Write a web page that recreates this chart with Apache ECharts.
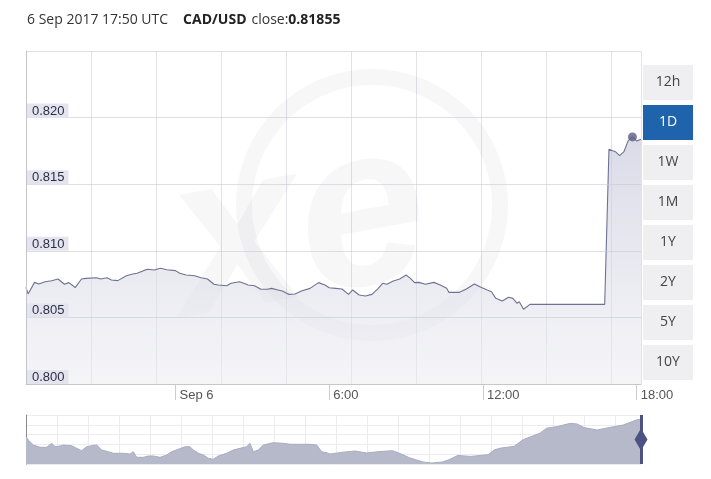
<!DOCTYPE html>
<html><head><meta charset="utf-8">
<script src="https://cdn.jsdelivr.net/npm/echarts@6/dist/echarts.min.js"></script>
<style>html,body{margin:0;padding:0;background:#fff;}#c{width:711px;height:479px;}</style>
</head><body><div id="c"></div>
<script>
// ---------------- data ----------------
const headerDate = '6 Sep 2017 17:50 UTC';
const pairName = 'CAD/USD';
const closeTime = '09-06 17:50';
const viewStart = '09-05 18:10';
const viewEnd = '09-06 18:10';

const times = [
  '09-05 18:10','09-05 18:15','09-05 18:30','09-05 18:40','09-05 18:55','09-05 19:10','09-05 19:25','09-05 19:40',
  '09-05 19:50','09-05 20:00','09-05 20:05','09-05 20:20','09-05 20:30','09-05 20:55','09-05 21:05','09-05 21:20',
  '09-05 21:30','09-05 21:45','09-05 22:05','09-05 22:20','09-05 22:30','09-05 22:45','09-05 22:55','09-05 23:10',
  '09-05 23:25','09-05 23:40',
  '09-06 00:00','09-06 00:10','09-06 00:25','09-06 00:45','09-06 01:00','09-06 01:15','09-06 01:30','09-06 01:40',
  '09-06 02:00','09-06 02:10','09-06 02:30','09-06 02:40','09-06 02:50','09-06 03:05','09-06 03:20','09-06 03:35',
  '09-06 03:45','09-06 04:00','09-06 04:10','09-06 04:25','09-06 04:40','09-06 04:55','09-06 05:15','09-06 05:35',
  '09-06 05:50','09-06 06:00','09-06 06:15','09-06 06:30','09-06 06:45','09-06 06:55','09-06 07:10','09-06 07:25',
  '09-06 07:40','09-06 07:55','09-06 08:05','09-06 08:15','09-06 08:30','09-06 08:45','09-06 09:00','09-06 09:10',
  '09-06 09:20','09-06 09:30','09-06 09:45','09-06 10:05','09-06 10:20','09-06 10:35','09-06 10:40','09-06 11:05',
  '09-06 11:20','09-06 11:40','09-06 11:55','09-06 12:10','09-06 12:20','09-06 12:30','09-06 12:45','09-06 13:00',
  '09-06 13:10','09-06 13:20','09-06 13:25','09-06 13:35','09-06 13:50','09-06 16:45','09-06 16:55','09-06 17:10',
  '09-06 17:20','09-06 17:30','09-06 17:40','09-06 17:50','09-06 18:00','09-06 18:10'
];
const rates = [
  0.80726,0.80676,0.80763,0.80751,0.80768,0.80775,0.80788,0.80749,
  0.80761,0.80738,0.80723,0.80788,0.80793,0.80798,0.80788,0.80798,
  0.80781,0.80776,0.80813,0.80826,0.80831,0.80851,0.80861,0.80856,
  0.80869,0.80858,
  0.80851,0.80831,0.80818,0.80813,0.80798,0.80788,0.80749,0.80743,
  0.80738,0.80756,0.80768,0.80756,0.80743,0.80738,0.80711,0.80711,
  0.80718,0.80706,0.80698,0.80673,0.80676,0.80698,0.80718,0.80761,
  0.80743,0.80723,0.80718,0.80713,0.80673,0.80706,0.80668,0.80661,
  0.80673,0.80718,0.80756,0.80749,0.80773,0.80788,0.80818,0.80793,
  0.80761,0.80763,0.80749,0.80763,0.80743,0.80718,0.80688,0.80688,
  0.80711,0.80751,0.80726,0.80706,0.80693,0.80643,0.80623,0.80651,
  0.80643,0.80606,0.80618,0.80561,0.80598,0.80598,0.81762,0.81744,
  0.81714,0.81744,0.81827,0.81855,0.81824,0.81837
];

const xTickHours = [0, 6, 12, 18];
const xTickLabels = ['Sep 6', '6:00', '12:00', '18:00'];

const rangeButtons = ['12h', '1D', '1W', '1M', '1Y', '2Y', '5Y', '10Y'];
const activeRange = '1D';

// navigator (longer period), position in % of navigator span
const navPositions = [
  0,0.37,1.19,2.28,3.37,4.18,4.72,5.53,6.07,7.43,8.24,9.06,9.87,10.68,11.5,12.31,13.38,14.2,15.82,16.91,
  17.45,18.0,19.07,19.89,20.7,21.79,22.88,23.69,24.76,25.85,26.67,27.2,28.02,28.83,29.64,30.46,31.27,32.63,33.71,34.8,
  35.89,36.42,36.96,37.77,38.59,40.21,41.84,42.93,44.55,46.18,47.27,48.08,49.02,49.43,51.85,53.5,55.38,57.56,59.61,61.02,
  62.44,64.55,65.95,67.72,68.78,70.2,72.31,75.12,76.18,77.24,79.35,80.78,82.18,83.58,84.65,86.41,88.52,89.6,90.76,92.88,
  94.29,95.71,97.12,98.54,99.24,100
];
const navRates = [
  0.7806,0.7752,0.7670,0.7633,0.7633,0.7698,0.7642,0.7654,0.7670,0.7659,0.7616,0.7577,0.7642,0.7659,0.7670,0.7589,0.7561,0.7535,0.7535,0.7523,
  0.7561,0.7469,0.7469,0.7491,0.7491,0.7469,0.7507,0.7561,0.7600,0.7642,0.7642,0.7589,0.7535,0.7507,0.7453,0.7437,0.7491,0.7535,0.7589,0.7616,
  0.7642,0.7698,0.7561,0.7589,0.7670,0.7708,0.7698,0.7682,0.7682,0.7682,0.7670,0.7561,0.7540,0.7523,0.7556,0.7572,0.7540,0.7564,0.7577,0.7523,
  0.7458,0.7393,0.7376,0.7393,0.7430,0.7500,0.7484,0.7512,0.7592,0.7621,0.7647,0.7755,0.7809,0.7863,0.7945,0.7971,0.8025,0.8013,0.7954,0.7915,
  0.7945,0.7971,0.7997,0.8052,0.8078,0.8095
];

// ---------------- helpers ----------------
function toHours(s) {
  const [md, hm] = s.split(' ');
  const day = +md.split('-')[1];
  const [h, m] = hm.split(':').map(Number);
  return (day - 6) * 24 + h + m / 60;
}
const mainData = times.map((t, i) => [toHours(t), rates[i]]);
const closeIdx = times.indexOf(closeTime);
const closeValue = rates[closeIdx];
const navData = navPositions.map((p, i) => [p, navRates[i]]);

// ---------------- layout ----------------
const G = { left: 26, top: 51, width: 615, height: 333 };
const NAV = { left: 26, top: 415, width: 615, height: 49 };
const vGridPx = 65, navGridPx = 31;
const BTN = { x: 643, y: 65, w: 50, h: 35, pitch: 40 };

const chart = echarts.init(document.getElementById('c'), null, { renderer: 'canvas' });

const graphics = [];
// watermark
graphics.push({
  type: 'circle', z: 1, silent: true,
  shape: { cx: 372, cy: 205, r: 128 },
  style: { fill: 'none', stroke: 'rgba(20,20,60,0.035)', lineWidth: 16 }
});
graphics.push({
  type: 'text', z: 1, silent: true, x: 300, y: 232, rotation: 0.18,
  style: { text: 'xe', font: 'italic bold 230px "Liberation Sans", Arial, sans-serif',
           fill: 'rgba(20,20,60,0.035)', align: 'center', verticalAlign: 'middle' }
});
// range buttons
rangeButtons.forEach((b, i) => {
  const active = b === activeRange;
  graphics.push({
    type: 'rect', z: 10,
    shape: { x: BTN.x, y: BTN.y + i * BTN.pitch, width: BTN.w, height: BTN.h },
    style: { fill: active ? '#1f63ad' : '#efeff2' }
  });
  graphics.push({
    type: 'text', z: 11,
    x: BTN.x + BTN.w / 2, y: BTN.y + i * BTN.pitch + BTN.h / 2,
    style: { text: b, fill: active ? '#ffffff' : '#444', font: '14px "Open Sans", sans-serif',
             align: 'center', verticalAlign: 'middle' }
  });
});

const option = {
  animation: false,
  backgroundColor: '#fff',
  title: {
    left: 27, top: 11, padding: 0,
    text: '{d|' + headerDate + '}   {b|' + pairName + '} {n|close:}{b|' + closeValue.toFixed(5) + '}',
    textStyle: {
      fontWeight: 'normal',
      rich: {
        d: { fontSize: 14, color: '#333', fontWeight: 'normal', fontFamily: 'Open Sans, sans-serif' },
        n: { fontSize: 14, color: '#333', fontWeight: 'normal', fontFamily: 'Open Sans, sans-serif' },
        b: { fontSize: 14, color: '#222', fontWeight: 'bold', fontFamily: 'Open Sans, sans-serif' }
      }
    }
  },
  grid: [
    { left: G.left, top: G.top, width: G.width, height: G.height },
    { left: NAV.left, top: NAV.top, width: NAV.width, height: NAV.height }
  ],
  xAxis: [
    {
      gridIndex: 0, type: 'value',
      min: toHours(viewStart), max: toHours(viewEnd),
      axisLine: { show: true, onZero: false, lineStyle: { color: '#c4c4cc', width: 1 } },
      axisTick: { show: true, length: 16, customValues: xTickHours, lineStyle: { color: '#ccccd6' } },
      axisLabel: {
        customValues: xTickHours, margin: 5, align: 'left', padding: [0, 0, 0, 4],
        color: '#555', fontSize: 13, fontFamily: '"Liberation Sans", Arial, sans-serif',
        formatter: v => xTickLabels[xTickHours.indexOf(Math.round(v))] || ''
      },
      splitLine: { show: false }
    },
    {
      gridIndex: 0, type: 'value', position: 'bottom',
      min: 0, max: G.width / vGridPx, interval: 1,
      axisLine: { show: false }, axisTick: { show: false }, axisLabel: { show: false },
      splitLine: { show: true, lineStyle: { color: '#e2e2e8', width: 1 } }
    },
    {
      gridIndex: 1, type: 'value',
      min: 0, max: 100, interval: 100 * navGridPx / NAV.width,
      axisLine: { show: false }, axisTick: { show: false }, axisLabel: { show: false },
      splitLine: { show: true, lineStyle: { color: '#ececf0', width: 1 } }
    }
  ],
  yAxis: [
    {
      gridIndex: 0, type: 'value', min: 0.8, max: 0.825, interval: 0.005, z: 6,
      axisLine: { show: true, onZero: false, lineStyle: { color: '#c4c4cc' } },
      axisTick: { show: false },
      axisLabel: {
        inside: true, showMaxLabel: false, margin: 1, verticalAlign: 'bottom', align: 'left',
        backgroundColor: '#e4e4ef', padding: [1, 4, 0, 5],
        color: '#2c2e46', fontSize: 13, fontFamily: '"Liberation Sans", Arial, sans-serif',
        formatter: v => v.toFixed(3)
      },
      splitLine: { show: true, lineStyle: { color: 'rgba(200,200,212,0.6)' } }
    },
    {
      gridIndex: 1, type: 'value', min: 0.736, max: 0.816, interval: 0.016,
      axisLine: { show: true, onZero: false, lineStyle: { color: '#8a8a94', width: 1 } },
      axisTick: { show: false }, axisLabel: { show: false },
      splitLine: { show: true, lineStyle: { color: '#ececf0' } }
    }
  ],
  series: [
    {
      type: 'line', xAxisIndex: 0, yAxisIndex: 0, data: mainData,
      showSymbol: false, symbol: 'none', z: 3,
      lineStyle: { color: '#6e7192', width: 1.1 },
      areaStyle: {
        origin: 'start',
        color: new echarts.graphic.LinearGradient(0, 0, 0, 1, [
          { offset: 0, color: 'rgba(196,198,217,0.9)' },
          { offset: 1, color: 'rgba(236,236,242,0.75)' }
        ])
      }
    },
    {
      type: 'scatter', xAxisIndex: 0, yAxisIndex: 0, z: 7,
      data: [[toHours(closeTime), closeValue]],
      symbol: 'circle', symbolSize: 9,
      itemStyle: { color: '#5a5e86' }
    },
    {
      type: 'line', xAxisIndex: 2, yAxisIndex: 1, data: navData,
      showSymbol: false, symbol: 'none',
      lineStyle: { color: '#a9acbf', width: 1 },
      areaStyle: { origin: 'start', color: '#b6b9ca', opacity: 1 },
      markLine: {
        silent: true, symbol: ['none', 'none'], label: { show: false },
        lineStyle: { color: '#4c5282', width: 3, type: 'solid' },
        data: [{ xAxis: 100 }]
      },
      markPoint: {
        silent: true, symbol: 'diamond', symbolSize: [13, 22],
        itemStyle: { color: '#4c5282' }, label: { show: false },
        data: [{ coord: [100, 0.776] }]
      }
    }
  ],
  graphic: graphics
};
chart.setOption(option);
</script>
</body></html>
